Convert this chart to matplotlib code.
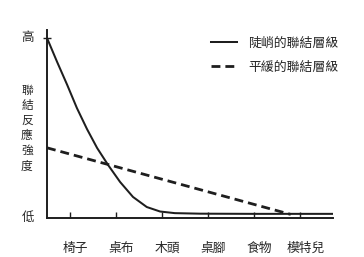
import matplotlib
matplotlib.use("Agg")
import matplotlib.pyplot as plt
import matplotlib.transforms as mtransforms

plt.rcParams['font.family'] = ['Noto Sans CJK TC', 'DejaVu Sans']

# 刺激項目 (x軸)
categories = ['椅子', '桌布', '木頭', '桌腳', '食物', '模特兒']
cat_pos = [1, 2, 3, 4, 5, 6]

# 陡峭的聯結層級 (讀圖估計)
steep_x = [0.5, 0.72, 0.94, 1.15, 1.37, 1.59, 1.83, 2.09, 2.37, 2.67, 2.96, 3.28, 3.83, 5.0, 6.7]
steep_y = [1.0, 0.867, 0.739, 0.611, 0.494, 0.389, 0.294, 0.20, 0.117, 0.061, 0.036, 0.027, 0.024, 0.023, 0.023]

# 平緩的聯結層級
flat_x = [0.5, 5.8]
flat_y = [0.39, 0.02]

legend_labels = ['陡峭的聯結層級', '平緩的聯結層級']
ink = '#1e1e1e'
txt = '#262626'

fig = plt.figure(figsize=(3.64, 2.57), dpi=100)
ax = fig.add_axes([47 / 364, 1 - 218 / 257, 286 / 364, 188 / 257])

l1, = ax.plot(steep_x, steep_y, color=ink, lw=1.45, solid_joinstyle='round')
l2, = ax.plot(flat_x, flat_y, color=ink, lw=2.0, dashes=(3.2, 1.8))

ax.set_xlim(0.5, 6.72)
ax.set_ylim(0, 188 / 180)

for s in ['top', 'right']:
    ax.spines[s].set_visible(False)
for s in ['left', 'bottom']:
    ax.spines[s].set_color(ink)
    ax.spines[s].set_linewidth(1.4)

ax.set_xticks(cat_pos)
ax.set_xticklabels(categories, fontsize=9.2, color=txt)
ax.tick_params(axis='x', direction='in', length=4, width=1, color=ink, pad=17)
shift = mtransforms.ScaledTranslation(5.5 / 100, 0, fig.dpi_scale_trans)
for lab in ax.get_xticklabels():
    lab.set_transform(lab.get_transform() + shift)

ax.set_yticks([1.0])
ax.set_yticklabels([''])
ax.tick_params(axis='y', direction='inout', length=6, width=1, color=ink)

ytr = ax.get_yaxis_transform()
ax.text(-0.068, 1.0, '高', transform=ytr, fontsize=9, ha='center', va='center', color=txt)
ax.text(-0.068, 0.0, '低', transform=ytr, fontsize=9, ha='center', va='center', color=txt)
ax.text(-0.07, 0.5, '聯\n結\n反\n應\n強\n度', transform=ytr,
        fontsize=8.5, ha='center', va='center', linespacing=1.22, color=txt)

fig.legend([l1, l2], legend_labels, loc='upper left',
           bbox_to_anchor=(211 / 364, 1 - 37 / 257), frameon=False,
           fontsize=9.3, labelcolor=txt, handlelength=2.0, handletextpad=0.9,
           borderpad=0, borderaxespad=0, labelspacing=0.85)

fig.savefig('out.png', dpi=100)
